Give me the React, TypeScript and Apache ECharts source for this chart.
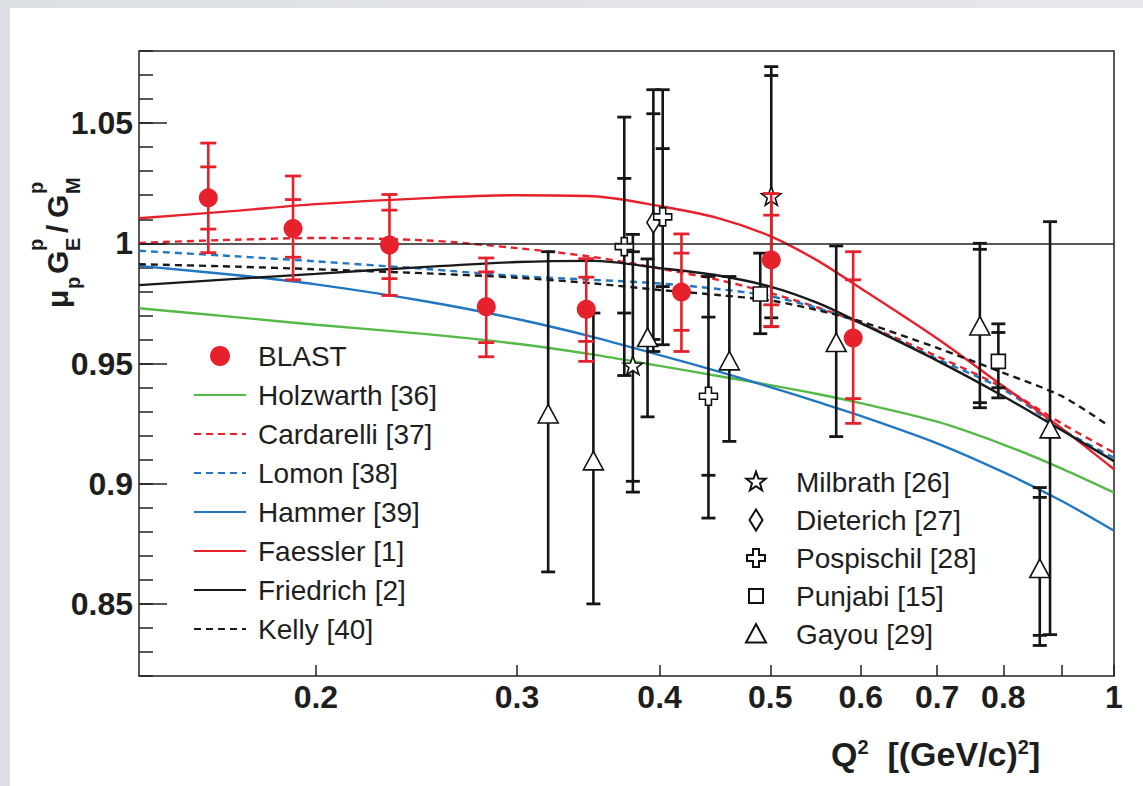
import React, { useEffect, useRef } from "react";
import * as echarts from "echarts";

const FONT = '"Liberation Sans", Arial, Helvetica, sans-serif';
const INK = "#1e1e1e";

// ---- model curves (Q^2 in (GeV/c)^2, mu_p G_E/G_M) ----
const modelQ2 = [0.14, 0.17, 0.2, 0.25, 0.3, 0.35, 0.4, 0.45, 0.5, 0.55, 0.6, 0.7, 0.8, 0.9, 1.0];
const kellyQ2 = [0.14, 0.17, 0.2, 0.25, 0.3, 0.35, 0.4, 0.45, 0.5, 0.55, 0.6, 0.7, 0.8, 0.9, 0.985];
const holzwarth = [0.973, 0.9693, 0.9661, 0.9622, 0.9582, 0.9537, 0.949, 0.9448, 0.941, 0.9373, 0.9335, 0.9258, 0.9163, 0.9063, 0.8963];
const cardarelli = [1.0002, 1.0015, 1.0022, 1.0012, 0.998, 0.9943, 0.9895, 0.9848, 0.9793, 0.9733, 0.9668, 0.953, 0.9399, 0.925, 0.9129];
const lomon = [0.9969, 0.9946, 0.9925, 0.9893, 0.9864, 0.9848, 0.9833, 0.981, 0.978, 0.973, 0.9668, 0.9519, 0.9392, 0.9226, 0.9108];
const hammer = [0.9906, 0.9868, 0.9829, 0.9758, 0.9685, 0.961, 0.9535, 0.9467, 0.9402, 0.934, 0.9282, 0.9168, 0.9048, 0.8928, 0.8804];
const faessler = [1.0104, 1.0135, 1.0163, 1.0188, 1.02, 1.0196, 1.0155, 1.0105, 1.003, 0.9928, 0.9813, 0.9604, 0.9405, 0.923, 0.906];
const friedrich = [0.9826, 0.9852, 0.9873, 0.9902, 0.9922, 0.9927, 0.9897, 0.9866, 0.982, 0.9752, 0.9668, 0.9512, 0.9364, 0.9222, 0.9094];
const kelly = [0.9913, 0.9903, 0.9892, 0.9875, 0.9857, 0.9833, 0.9806, 0.9785, 0.9762, 0.9722, 0.9675, 0.9565, 0.9461, 0.9364, 0.9247];

// ---- data points: [Q2, ratio, innerLo, innerHi, outerLo, outerHi] ----
const blast = [
  [0.161, 1.0189, 1.0059, 1.0318, 0.9961, 1.0417],
  [0.191, 1.0062, 0.9942, 1.0182, 0.9848, 1.028],
  [0.232, 0.9993, 0.9853, 1.0138, 0.9783, 1.0203],
  [0.282, 0.9736, 0.9587, 0.9881, 0.9528, 0.9939],
  [0.345, 0.9726, 0.9592, 0.9859, 0.9509, 0.9936],
  [0.418, 0.9797, 0.9638, 0.9959, 0.955, 1.0039],
  [0.501, 0.9931, 0.9744, 1.0117, 0.9654, 1.0207],
  [0.591, 0.9606, 0.9354, 0.9848, 0.9251, 0.9965],
];
const milbrath = [
  [0.379, 0.9488, 0.901, 0.9965, 0.8965, 1.0037],
  [0.501, 1.0193, 0.969, 1.0698, 0.9653, 1.0735],
];
const dieterich = [[0.395, 1.0087, 0.96, 1.0539, 0.955, 1.0639]];
const pospischil = [
  [0.3725, 0.9986, 0.971, 1.027, 0.945, 1.0525],
  [0.4025, 1.011, 0.982, 1.0394, 0.9578, 1.0639],
  [0.4414, 0.9364, 0.9035, 0.9693, 0.8857, 0.9862],
];
const punjabi = [
  [0.49, 0.9789, null, null, 0.9624, 0.9959],
  [0.792, 0.9509, 0.9399, 0.9629, 0.9357, 0.9665],
];
const gayou = [
  [0.3195, 0.9288, null, null, 0.8633, 0.9965],
  [0.35, 0.9093, null, null, 0.85, 0.971],
  [0.3904, 0.9606, null, null, 0.9278, 0.9935],
  [0.4604, 0.9509, null, null, 0.9176, 0.9862],
  [0.5711, 0.9585, null, null, 0.9196, 0.9989],
  [0.763, 0.9654, 0.9337, 0.9975, 0.9316, 1.0],
  [0.861, 0.8645, 0.8369, 0.8943, 0.8327, 0.8984],
  [0.879, 0.9226, null, null, 0.8372, 1.009],
];

// ---- axes ----
const xTickValues = [0.2, 0.3, 0.4, 0.5, 0.6, 0.7, 0.8, 0.9, 1];
const xLabelValues = [0.2, 0.3, 0.4, 0.5, 0.6, 0.7, 0.8, 1];
const yLabelValues = [0.85, 0.9, 0.95, 1, 1.05];

const legendPoints = ["BLAST"];
const legendCurves = ["Holzwarth [36]", "Cardarelli [37]", "Lomon [38]", "Hammer [39]", "Faessler [1]", "Friedrich [2]", "Kelly [40]"];
const legendRight = ["Milbrath [26]", "Dieterich [27]", "Pospischil [28]", "Punjabi [15]", "Gayou [29]"];

const RED = "#e6212b";
const GREEN = "#55b947";
const BLUE = "#2277c3";

const ANCH = " M0 0 M22 22";
const STAR = "path://M11 0.8 L13.47 7.6 L20.7 7.76 L14.99 12.3 L17.1 19.3 L11 15.2 L4.9 19.3 L7.01 12.3 L1.3 7.76 L8.53 7.6 Z" + ANCH;
const DIAMOND = "path://M11 0.5 L17.5 11 L11 21.5 L4.5 11 Z" + ANCH;
const CROSS = "path://M8 2 L14 2 L14 8 L20 8 L20 14 L14 14 L14 20 L8 20 L8 14 L2 14 L2 8 L8 8 Z" + ANCH;
const SQUARE = "path://M4 4 L18 4 L18 18 L4 18 Z" + ANCH;
const TRIANGLE = "path://M11 1 L21 19.5 L1 19.5 Z" + ANCH;

function App() {
  const ref = useRef<HTMLDivElement>(null);

  useEffect(() => {
    document.body.style.margin = "0";
    if (!ref.current) return;
    const chart = echarts.init(ref.current, undefined, { renderer: "svg" });

    const pairs = (xs: number[], ys: number[]) => xs.map((x, i) => [x, ys[i]]);

    const curve = (name: string, ys: number[], color: string, dashed: boolean, xs: number[] = modelQ2, extra: any = {}) => ({
      name,
      type: "line",
      data: pairs(xs, ys),
      symbol: "none",
      showSymbol: false,
      smooth: 0.3,
      z: 2,
      silent: true,
      lineStyle: { color, width: 2.4, type: dashed ? [7, 5] : "solid" },
      itemStyle: { color },
      emphasis: { disabled: true },
      ...extra,
    });

    const errBars = (name: string, rows: any[], color: string, capHalf: number, z: number) => ({
      name,
      type: "custom",
      z,
      silent: true,
      data: rows,
      encode: { x: 0, y: 1 },
      renderItem: (_p: any, api: any) => {
        const x = api.value(0);
        const lo = api.value(4);
        const hi = api.value(5);
        const a = api.coord([x, lo]);
        const b = api.coord([x, hi]);
        const children: any[] = [
          { type: "line", shape: { x1: a[0], y1: a[1], x2: b[0], y2: b[1] }, style: { stroke: color, lineWidth: 2.6 } },
        ];
        const cap = (v: number) => {
          const p = api.coord([x, v]);
          children.push({
            type: "line",
            shape: { x1: p[0] - capHalf, y1: p[1], x2: p[0] + capHalf, y2: p[1] },
            style: { stroke: color, lineWidth: 2.8 },
          });
        };
        cap(lo);
        cap(hi);
        const ilo = api.value(2);
        const ihi = api.value(3);
        if (!isNaN(ilo)) cap(ilo);
        if (!isNaN(ihi)) cap(ihi);
        return { type: "group", children };
      },
    });

    const markers = (name: string, rows: any[], symbol: string, size: number) => ({
      name,
      type: "scatter",
      data: rows.map((r) => [r[0], r[1]]),
      symbol,
      symbolSize: size,
      z: 4,
      silent: true,
      itemStyle: { color: "#ffffff", borderColor: "#111", borderWidth: 1.6, opacity: 1 },
      emphasis: { disabled: true },
    });

    const yText = (text: string, x: number, y: number, size: number) => ({
      type: "text",
      x,
      y,
      style: {
        text,
        fontSize: size,
        fontWeight: "bold",
        fontFamily: FONT,
        fill: INK,
        align: "left",
        verticalAlign: "middle",
      },
    });

    const leftLegendData = [
      ...legendPoints.map((n) => ({ name: n })),
      ...legendCurves.map((n) => ({ name: n, itemStyle: { opacity: 0, color: "transparent", borderWidth: 0 } })),
    ];

    const option: any = {
      animation: false,
      backgroundColor: "#ffffff",
      textStyle: { fontFamily: FONT },
      grid: {
        left: 129,
        top: 43,
        right: 29,
        bottom: 110,
        show: true,
        borderColor: "#222",
        borderWidth: 1.5,
        backgroundColor: "transparent",
      },
      xAxis: {
        type: "log",
        logBase: 10,
        min: 0.14,
        max: 1,
        axisLine: { show: false },
        splitLine: { show: false },
        minorTick: { show: false },
        axisTick: {
          show: true,
          inside: true,
          length: 11,
          customValues: xTickValues,
          lineStyle: { color: "#222", width: 1.5 },
        },
        axisLabel: {
          customValues: xLabelValues,
          fontSize: 32,
          fontWeight: "bold",
          color: INK,
          fontFamily: FONT,
          margin: 5,
          formatter: (v: number) => String(+Number(v).toFixed(2)),
        },
      },
      yAxis: [
        {
          type: "value",
          min: 0.82,
          max: 1.08,
          interval: 0.01,
          position: "left",
          axisLine: { show: false },
          splitLine: { show: false },
          axisLabel: { show: false },
          axisTick: { show: true, inside: true, length: 14, lineStyle: { color: "#222", width: 1.5 } },
        },
        {
          type: "value",
          min: 0.82,
          max: 1.08,
          position: "left",
          axisLine: { show: false },
          splitLine: { show: false },
          axisTick: {
            show: true,
            inside: true,
            length: 28,
            customValues: yLabelValues,
            lineStyle: { color: "#222", width: 1.5 },
          },
          axisLabel: {
            customValues: yLabelValues,
            fontSize: 32,
            fontWeight: "bold",
            color: INK,
            fontFamily: FONT,
            margin: 6,
            padding: [9, 0, 0, 0],
            formatter: (v: number) => String(+Number(v).toFixed(2)),
          },
        },
      ],
      legend: [
        {
          data: leftLegendData,
          orient: "vertical",
          left: 183,
          top: 334,
          padding: 0,
          itemWidth: 52,
          itemHeight: 20,
          itemGap: 11,
          selectedMode: false,
          textStyle: { fontSize: 28, color: INK, fontFamily: FONT, padding: [0, 0, 0, 7] },
        },
        {
          data: legendRight,
          orient: "vertical",
          left: 734,
          top: 460,
          padding: 0,
          itemWidth: 22,
          itemHeight: 22,
          itemGap: 10,
          selectedMode: false,
          textStyle: { fontSize: 28, color: INK, fontFamily: FONT, padding: [0, 0, 0, 24] },
        },
      ],
      graphic: [
        {
          type: "group",
          x: 63,
          y: 302,
          rotation: Math.PI / 2,
          children: [
            yText("\u03bc", 2, -16, 30),
            yText("p", 21, 0, 20),
            yText("G", 36, -16, 30),
            yText("E", 59, 0, 20),
            yText("p", 59, -37, 20),
            yText("/", 77, -16, 30),
            yText("G", 92, -16, 30),
            yText("M", 116, 0, 20),
            yText("p", 116, -37, 20),
          ],
        },
        {
          type: "text",
          x: 821,
          y: 729,
          style: {
            text: "{b|Q}{s|2}{b|  [(GeV/c)}{s|2}{b|]}",
            align: "left",
            verticalAlign: "top",
            fill: INK,
            rich: {
              b: { fontSize: 34, fontWeight: "bold", fontFamily: FONT, fill: INK, color: INK },
              s: { fontSize: 20, fontWeight: "bold", fontFamily: FONT, fill: INK, color: INK, verticalAlign: "top" },
            },
          },
        },
      ],
      series: [
        curve("Holzwarth [36]", holzwarth, GREEN, false, modelQ2, {
          markLine: {
            silent: true,
            symbol: ["none", "none"],
            label: { show: false },
            lineStyle: { color: "#222", width: 1.5, type: "solid" },
            data: [{ yAxis: 1 }],
          },
        }),
        curve("Cardarelli [37]", cardarelli, RED, true),
        curve("Lomon [38]", lomon, BLUE, true),
        curve("Hammer [39]", hammer, BLUE, false),
        curve("Faessler [1]", faessler, RED, false),
        curve("Friedrich [2]", friedrich, "#1a1a1a", false),
        curve("Kelly [40]", kelly, "#1a1a1a", true, kellyQ2),
        errBars("err-milbrath", milbrath, "#151515", 7, 3),
        errBars("err-dieterich", dieterich, "#151515", 7, 3),
        errBars("err-pospischil", pospischil, "#151515", 7, 3),
        errBars("err-punjabi", punjabi, "#151515", 7, 3),
        errBars("err-gayou", gayou, "#151515", 7, 3),
        markers("Milbrath [26]", milbrath, STAR, 22),
        markers("Dieterich [27]", dieterich, DIAMOND, 22),
        markers("Pospischil [28]", pospischil, CROSS, 22),
        markers("Punjabi [15]", punjabi, SQUARE, 22),
        markers("Gayou [29]", gayou, TRIANGLE, 22),
        errBars("err-blast", blast, RED, 8, 5),
        {
          name: "BLAST",
          type: "scatter",
          data: blast.map((r) => [r[0], r[1]]),
          symbol: "circle",
          symbolSize: 19,
          z: 6,
          silent: true,
          itemStyle: { color: RED, opacity: 1 },
          emphasis: { disabled: true },
        },
      ],
    };

    chart.setOption(option);
    return () => chart.dispose();
  }, []);

  return (
    <div
      style={{
        position: "relative",
        width: 1143,
        height: 786,
        background: "linear-gradient(90deg, #dcdfe4 0%, #e6e8eb 100%)",
        overflow: "hidden",
      }}
    >
      <div
        ref={ref}
        style={{ position: "absolute", left: 10, top: 8, width: 1133, height: 778, background: "#ffffff" }}
      />
    </div>
  );
}

export default App;
